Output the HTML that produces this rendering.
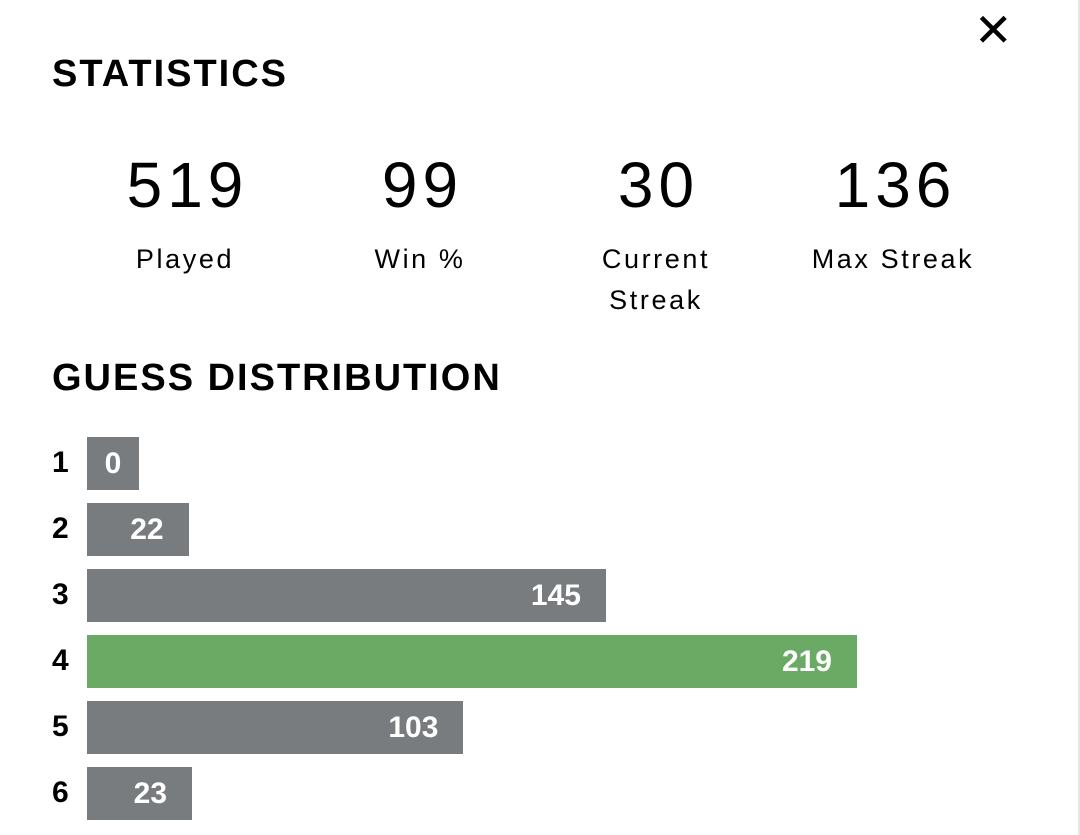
<!DOCTYPE html>
<html><head><meta charset="utf-8"><style>
body{margin:0;width:1080px;height:835px;background:#fff;position:relative;overflow:hidden;font-family:"Liberation Sans",sans-serif;color:#000}
.abs{position:absolute}
.h{font-weight:bold;font-size:38px;left:52px;letter-spacing:2px}
.num{font-size:64px;width:240px;text-align:center;top:148px;letter-spacing:5px;text-indent:5px}
.lbl{font-size:27px;width:240px;text-align:center;top:239px;letter-spacing:2.6px;line-height:41px}
.row{font-weight:bold;font-size:30px;left:52px}
.bar{height:53px;left:87px;color:#fff;font-weight:bold;font-size:30px;line-height:53px;text-align:right;box-sizing:border-box;padding-right:25px}
</style></head><body>
<div class="abs" style="right:0;top:0;width:2px;height:835px;background:#e6e6e6"></div>
<div class="abs" style="left:974px;top:7px;font-size:46px;line-height:46px">&#x2715;</div>
<div class="abs h" style="top:53px">STATISTICS</div>
<div class="abs num" style="left:65px">519</div>
<div class="abs num" style="left:300px">99</div>
<div class="abs num" style="left:536px">30</div>
<div class="abs num" style="left:773px">136</div>
<div class="abs lbl" style="left:65px">Played</div>
<div class="abs lbl" style="left:300px">Win %</div>
<div class="abs lbl" style="left:536px">Current<br>Streak</div>
<div class="abs lbl" style="left:773px">Max Streak</div>
<div class="abs h" style="top:357px">GUESS DISTRIBUTION</div>
<div id="chart"></div>
<script>
const guesses=["1","2","3","4","5","6"];
const counts=[0,22,145,219,103,23];
const highlight=3;
const chart=document.getElementById('chart');
const maxV=Math.max(...counts);
function widthOf(v){return Math.max(52,27+v/maxV*743);}
guesses.forEach((g,i)=>{
  const top=437+i*66;
  const r=document.createElement('div');
  r.className='abs row';r.style.top=(top+9)+'px';r.textContent=g;
  
  
  chart.appendChild(r);
  const b=document.createElement('div');
  b.className='abs bar';b.style.top=top+'px';
  b.style.width=widthOf(counts[i])+'px';
  b.style.background=i===highlight?'#6aaa64':'#787c7e';
  if(counts[i]===0){b.style.paddingRight='0';b.style.textAlign='center';}
  b.textContent=counts[i];
  
  
  chart.appendChild(b);
});
</script>
</body></html>
